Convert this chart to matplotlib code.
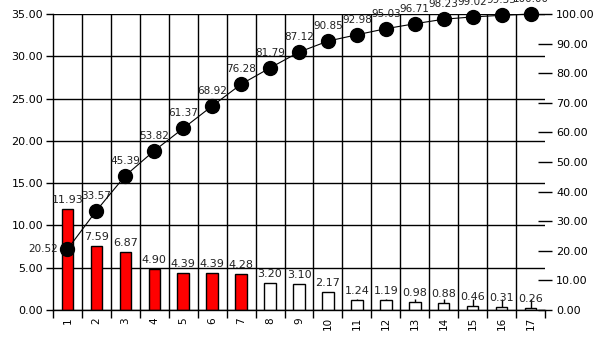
import numpy as np
import matplotlib.pyplot as plt

# values
categories = [str(i) for i in range(1, 18)]
bar_values = [11.93, 7.59, 6.87, 4.90, 4.39, 4.39, 4.28, 3.20, 3.10,
              2.17, 1.24, 1.19, 0.98, 0.88, 0.46, 0.31, 0.26]
cum_pct = [20.52, 33.57, 45.39, 53.82, 61.37, 68.92, 76.28, 81.79, 87.12,
           90.85, 92.98, 95.03, 96.71, 98.23, 99.02, 99.55, 100.00]
n_red = 7
left_ticks = [0, 5, 10, 15, 20, 25, 30, 35]
right_ticks = [0, 10, 20, 30, 40, 50, 60, 70, 80, 90, 100]

plt.rcParams['font.family'] = 'DejaVu Sans'

fig = plt.figure(figsize=(6.05, 3.40), dpi=100)
ax = fig.add_axes([53 / 605, 30 / 340, 492 / 605, 296 / 340])

x = np.arange(len(categories))
colors = ['#ff0000'] * n_red + ['white'] * (len(categories) - n_red)

ax.set_axisbelow(True)
ax.bar(x, bar_values, width=0.4, color=colors, edgecolor='black', linewidth=1.0, zorder=2)

# grid: horizontal at left ticks, vertical between categories
ax.set_xlim(-0.5, len(categories) - 0.5)
ax.set_ylim(0, 35)
ax.set_yticks(left_ticks)
ax.set_yticklabels(['%.2f' % v for v in left_ticks])
ax.yaxis.grid(True, color='black', linewidth=1.0)
ax.vlines(x[:-1] + 0.5, 0, 35, color='black', linewidth=1.0, zorder=1)

ax.set_xticks(x)
ax.set_xticklabels(categories, rotation=90)
ax.set_xticks(np.arange(-0.5, len(categories)), minor=True)
ax.tick_params(axis='x', which='major', direction='in', length=8, width=1,
               labelsize=7.5, pad=5)
ax.tick_params(axis='x', which='minor', direction='out', length=6, width=1)
ax.tick_params(axis='y', direction='out', length=5, width=1, labelsize=8, pad=2)

for s in ['top', 'right']:
    ax.spines[s].set_visible(False)
ax.spines['left'].set_linewidth(1.0)
ax.spines['bottom'].set_linewidth(1.0)

for xi, v in zip(x, bar_values):
    ax.annotate('%.2f' % v, (xi, v), xytext=(0, 4), textcoords='offset pixels',
                ha='center', va='bottom', fontsize=8, color='#222222', zorder=5)

# cumulative percentage on the right axis
ax2 = ax.twinx()
ax2.set_ylim(0, 100)
ax2.set_yticks(right_ticks)
ax2.set_yticklabels(['%.2f' % v for v in right_ticks])
ax2.tick_params(axis='y', direction='inout', length=10, width=1, labelsize=8, pad=3)
for s in ['top', 'right', 'left', 'bottom']:
    ax2.spines[s].set_visible(False)

ax2.plot(x, cum_pct, color='black', linewidth=0.8, marker='o', markersize=10,
         markerfacecolor='black', markeredgecolor='black', clip_on=False, zorder=4)

for i, (xi, v) in enumerate(zip(x, cum_pct)):
    if i == 0:
        ax2.annotate('%.2f' % v, (xi, v), xytext=(-9, 0), textcoords='offset pixels',
                     ha='right', va='center', fontsize=7.5, color='#222222')
    else:
        ax2.annotate('%.2f' % v, (xi, v), xytext=(0, 10), textcoords='offset pixels',
                     ha='center', va='bottom', fontsize=7.5, color='#222222',
                     annotation_clip=False)

fig.savefig('out.png', dpi=100)
